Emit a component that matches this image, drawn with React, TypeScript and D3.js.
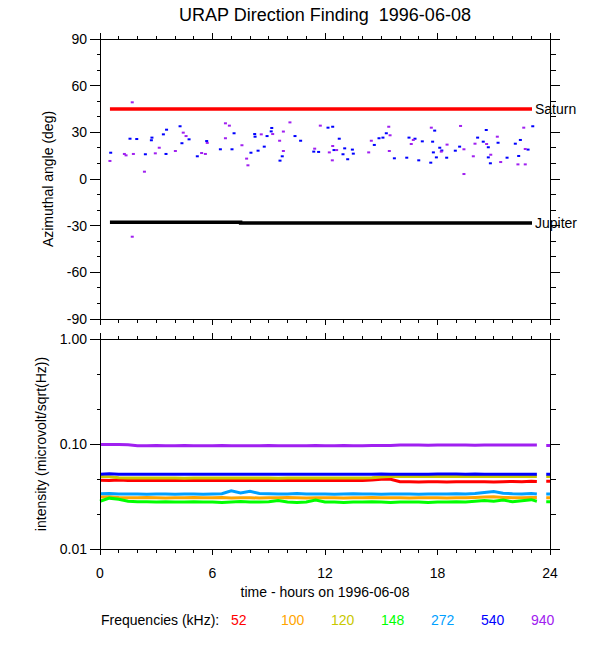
import React from 'react';
import * as d3 from 'd3';

const W = 600;
const H = 650;
const left = 100;
const right = 550;
const top1 = 39;
const bot1 = 319;
const top2 = 339;
const bot2 = 549;
const FONT = '"Liberation Sans", Arial, Helvetica, sans-serif';

const hourTicks = [0, 6, 12, 18, 24];
const angleTicks = [-90, -60, -30, 0, 30, 60, 90];
const intensityTicks = [0.01, 0.1, 1];
const intensityLabels = ['0.01', '0.10', '1.00'];

// direction finding results: [hour, azimuth deg]
const blueDF = [
  [0.57, 16.9], [1.6, 25.9], [1.96, 25.7], [2.42, 15.9], [2.74, 24.9], [2.77, 26.6],
  [3.38, 28.7], [3.55, 31.7], [3.52, 16.1], [4.27, 33.9], [4.37, 23], [4.75, 25.5],
  [5.19, 14.6], [5.69, 24.4], [6.42, 19.1], [7.15, 29.4], [7.04, 19.1], [8.05, 16.9],
  [8.25, 28.9], [8.27, 27.2], [8.43, 18.2], [8.76, 20.8], [8.91, 27.6], [9.16, 32.8],
  [9.13, 30.6], [9.6, 11.8], [9.72, 14.6], [10.4, 27.6], [10.7, 24.6], [11.4, 17.6],
  [11.66, 17.4], [12.16, 33], [12.41, 33.6], [12.48, 18.6], [12.76, 25.9], [12.96, 15.9],
  [13.05, 19.7], [13.21, 12.7], [13.46, 18.9], [13.51, 16.3], [14.63, 21.9], [14.88, 26.2],
  [15.09, 26.6], [15.27, 29.4], [15.7, 13.3], [16.36, 13.7], [16.48, 26.6], [16.8, 25.9],
  [17.0, 12], [17.19, 24.2], [17.64, 10.5], [17.85, 31.1], [17.74, 24], [17.78, 17.1],
  [17.94, 13.9], [18.12, 20.1], [18.23, 18.3], [18.49, 13.7], [18.95, 18.2], [19.18, 20.8],
  [20.14, 26.6], [20.44, 24], [20.6, 31.5], [20.71, 20.4], [20.71, 13.9], [20.82, 10.1],
  [21.23, 23.3], [21.71, 13.7], [22.15, 22.7], [22.33, 14.8], [22.42, 25.1], [22.83, 18.9],
  [23.08, 33.9],
];

const purpleDF = [
  [0.53, 11.6], [1.3, 16.1], [1.39, 15.2], [1.72, 49.3], [1.78, 16.1], [1.72, -37.1],
  [2.37, 4.7], [2.95, 16.5], [3.16, 20.1], [4.02, 18], [4.44, 29.8], [4.59, 27.6],
  [5.42, 16.7], [5.62, 16.1], [5.72, 23.2], [6.69, 35.8], [6.9, 34.3], [6.69, 26.2],
  [7.57, 21.7], [7.82, 13.1], [7.89, 8.8], [8.6, 28.7], [9.21, 28.9], [9.58, 24.6],
  [9.78, 18], [9.78, 30.5], [10.13, 36.4], [11.45, 19.5], [11.75, 34.3], [12.41, 21.2],
  [12.23, 17.1], [12.62, 18.6], [12.39, 12], [14.33, 17.1], [14.47, 24.6], [15.4, 33.6],
  [15.47, 28.1], [15.43, 18], [16.71, 25.1], [16.6, 22.5], [17.67, 33], [18.2, 17.6],
  [18.51, 22.1], [19.23, 34.1], [19.41, 19.1], [19.41, 3.2], [19.91, 14.6], [20.0, 22.7],
  [20.62, 22.5], [20.84, 15.6], [21.19, 27.2], [21.37, 10.9], [22.29, 9.4], [22.6, 33],
  [22.68, 9.4], [22.68, 19.3],
];

const saturn = [[0.53, 45], [23.04, 45]];
const jupiter = [[0.53, -27.8], [7.5, -27.8], [7.5, -28.3], [23.04, -28.3]];

// intensity time series (NaN = data gap)
const times = [
  0, 0.5, 1, 1.5, 2, 2.5, 3, 3.5, 4, 4.5, 5, 5.5,
  6, 6.5, 7, 7.5, 8, 8.5, 9, 9.5, 10, 10.5, 11, 11.5,
  12, 12.5, 13, 13.5, 14, 14.5, 15, 15.5, 16, 16.5, 17, 17.5,
  18, 18.5, 19, 19.5, 20, 20.5, 21, 21.5, 22, 22.5, 23,
  23.3, 23.55, 23.8, 24,
];
const f52 = [
  0.0452, 0.045, 0.0455, 0.045, 0.045, 0.0448, 0.045, 0.0452, 0.045, 0.045, 0.0448, 0.045,
  0.045, 0.045, 0.0452, 0.045, 0.0448, 0.045, 0.045, 0.0452, 0.045, 0.045, 0.045, 0.0448,
  0.045, 0.045, 0.0452, 0.045, 0.045, 0.0455, 0.0462, 0.0462, 0.0438, 0.0437, 0.0435, 0.0437,
  0.0437, 0.0435, 0.0437, 0.0437, 0.0438, 0.0437, 0.0435, 0.0437, 0.044, 0.0437, 0.0442,
  0.044, NaN, 0.0442, 0.0442,
];
const f100 = [
  0.0312, 0.0315, 0.031, 0.0308, 0.0308, 0.031, 0.0308, 0.0306, 0.0308, 0.0308, 0.031, 0.0308,
  0.0308, 0.031, 0.0306, 0.0308, 0.0308, 0.0306, 0.0308, 0.0308, 0.031, 0.0308, 0.0306, 0.0308,
  0.0308, 0.0308, 0.0306, 0.0308, 0.0308, 0.031, 0.0308, 0.0308, 0.0308, 0.0306, 0.0308, 0.0308,
  0.0308, 0.0306, 0.0308, 0.0308, 0.031, 0.0312, 0.0315, 0.031, 0.0308, 0.0308, 0.031,
  0.031, NaN, 0.0308, 0.0308,
];
const f120 = [
  0.049, 0.0488, 0.0478, 0.0475, 0.0474, 0.0474, 0.0475, 0.0474, 0.0474, 0.0473, 0.0474, 0.0475,
  0.0474, 0.0474, 0.0474, 0.0475, 0.0474, 0.0474, 0.0474, 0.0473, 0.0474, 0.0474, 0.0475, 0.0474,
  0.0474, 0.0474, 0.0474, 0.0475, 0.0474, 0.0478, 0.0486, 0.049, 0.049, 0.0491, 0.049, 0.0491,
  0.049, 0.0491, 0.049, 0.049, 0.0491, 0.049, 0.049, 0.0491, 0.049, 0.0492, 0.0491,
  0.049, NaN, 0.049, 0.049,
];
const f148 = [
  0.0285, 0.0305, 0.0298, 0.0285, 0.0282, 0.0282, 0.028, 0.0282, 0.028, 0.028, 0.0282, 0.028,
  0.028, 0.0278, 0.028, 0.0283, 0.028, 0.028, 0.0282, 0.029, 0.028, 0.0278, 0.028, 0.0292,
  0.028, 0.028, 0.0278, 0.028, 0.028, 0.0282, 0.028, 0.0278, 0.028, 0.028, 0.028, 0.0278,
  0.028, 0.028, 0.0282, 0.028, 0.0285, 0.029, 0.0285, 0.0292, 0.0282, 0.0288, 0.0295,
  0.0285, NaN, 0.0282, 0.0282,
];
const f272 = [
  0.0336, 0.0338, 0.0334, 0.0334, 0.0334, 0.0333, 0.0334, 0.0334, 0.0333, 0.0334, 0.0334, 0.0333,
  0.0334, 0.0336, 0.0358, 0.0342, 0.0354, 0.0338, 0.0336, 0.0334, 0.0334, 0.0338, 0.0334, 0.0334,
  0.0334, 0.0333, 0.0334, 0.0336, 0.0334, 0.0334, 0.0333, 0.0334, 0.0334, 0.0334, 0.0333, 0.0334,
  0.0334, 0.0334, 0.0336, 0.0334, 0.0338, 0.0345, 0.0352, 0.034, 0.0336, 0.0334, 0.0338,
  0.0334, NaN, 0.0334, 0.0334,
];
const f540 = [
  0.0516, 0.052, 0.0516, 0.0516, 0.0514, 0.0514, 0.0516, 0.0514, 0.0514, 0.0514, 0.0516, 0.0514,
  0.0514, 0.0514, 0.0516, 0.0514, 0.0514, 0.0514, 0.0516, 0.0514, 0.0514, 0.0514, 0.0514, 0.0516,
  0.0514, 0.0516, 0.0514, 0.0514, 0.0514, 0.0514, 0.0518, 0.0516, 0.0516, 0.0516, 0.0514, 0.0516,
  0.0518, 0.0518, 0.0518, 0.0516, 0.0518, 0.0514, 0.0514, 0.0516, 0.0514, 0.0514, 0.0514,
  0.0514, NaN, 0.0514, 0.0514,
];
const f940 = [
  0.099, 0.099, 0.099, 0.0985, 0.0965, 0.0965, 0.097, 0.0965, 0.0965, 0.097, 0.0965, 0.0965,
  0.0965, 0.097, 0.0965, 0.0965, 0.0965, 0.0965, 0.097, 0.0965, 0.0965, 0.0965, 0.0965, 0.097,
  0.0965, 0.0965, 0.097, 0.0965, 0.0965, 0.097, 0.097, 0.097, 0.098, 0.098, 0.098, 0.0975,
  0.098, 0.098, 0.098, 0.098, 0.0975, 0.098, 0.098, 0.098, 0.098, 0.098, 0.098,
  0.098, NaN, 0.097, 0.097,
];

const freqLabels = ['52', '100', '120', '148', '272', '540', '940'];
const freqColors = ['#ff0000', '#ffa500', '#c8c800', '#00ff00', '#00a0ff', '#0000ff', '#a020f0'];
const freqSeries = [f52, f100, f120, f148, f272, f540, f940];

const x = d3.scaleLinear().domain([0, 24]).range([left, right]);
const yAng = d3.scaleLinear().domain([-90, 90]).range([bot1, top1]);
const yInt = d3.scaleLog().domain([0.01, 1]).range([bot2, top2]);

const minorHours = d3.range(0, 25, 1);
const minorAngles = d3.range(-90, 91, 10);
const minorInt = d3.range(-6, 1).map((k) => Math.pow(10, k / 3));

const tl = { xMaj: 6, xMin: 3.5, yMajL: 10, yMinL: 3.5, yMajR: 10, yMinR: 6 };

function Panel({ y, yTop, yBot, yMajor, yMinor, yLabels }) {
  return (
    <g stroke="#000" strokeWidth={1} shapeRendering="crispEdges">
      <rect x={left} y={yTop} width={right - left} height={yBot - yTop} fill="none" />
      {minorHours.map((h) => {
        const maj = hourTicks.includes(h);
        const l = maj ? tl.xMaj : tl.xMin;
        return (
          <g key={'h' + h}>
            <line x1={x(h)} x2={x(h)} y1={yTop} y2={yTop - l} />
            <line x1={x(h)} x2={x(h)} y1={yBot} y2={yBot + l} />
          </g>
        );
      })}
      {yMinor.map((v, i) => (
        <g key={'m' + i}>
          <line x1={left} x2={left - tl.yMinL} y1={y(v)} y2={y(v)} />
          <line x1={right} x2={right + tl.yMinR} y1={y(v)} y2={y(v)} />
        </g>
      ))}
      {yMajor.map((v, i) => (
        <g key={'M' + i}>
          <line x1={left} x2={left - tl.yMajL} y1={y(v)} y2={y(v)} />
          <line x1={right} x2={right + tl.yMajR} y1={y(v)} y2={y(v)} />
          <text x={87} y={y(v)} dy="0.36em" textAnchor="end" stroke="none" fill="#000"
            fontSize={14} fontFamily={FONT}>{yLabels[i]}</text>
        </g>
      ))}
    </g>
  );
}

export default function App() {
  const line = d3.line<number[]>().x((d) => x(d[0])).y((d) => yAng(d[1]));
  const intLine = (vals: number[]) =>
    d3.line<number>()
      .defined((v) => !isNaN(v))
      .x((_, i) => x(times[i]))
      .y((v) => yInt(v))(vals);

  return (
    <svg width={W} height={H} style={{ position: 'absolute', left: 0, top: 0, background: '#fff' }}
      fontFamily={FONT}>
      <rect width={W} height={H} fill="#fff" />
      <text x={(left + right) / 2} y={21} textAnchor="middle" fontSize={18} style={{ whiteSpace: 'pre' }}>
        {'URAP Direction Finding  1996-06-08'}
      </text>

      {/* top panel: azimuth */}
      <path d={line(saturn)} stroke="#ff0000" strokeWidth={3.5} fill="none" />
      <path d={line(jupiter)} stroke="#000" strokeWidth={3.5} fill="none" />
      <text x={535} y={yAng(45)} dy="0.36em" fontSize={14}>Saturn</text>
      <text x={535} y={yAng(-28)} dy="0.36em" fontSize={14}>Jupiter</text>
      {blueDF.map((d, i) => (
        <rect key={'b' + i} x={x(d[0]) - 1.5} y={yAng(d[1]) - 1} width={3} height={2} fill="#0000ff" />
      ))}
      {purpleDF.map((d, i) => (
        <rect key={'p' + i} x={x(d[0]) - 1.5} y={yAng(d[1]) - 1} width={3} height={2} fill="#a020f0" />
      ))}
      <Panel y={yAng} yTop={top1} yBot={bot1} yMajor={angleTicks} yMinor={minorAngles}
        yLabels={angleTicks.map(String)} />
      <text transform={`translate(53,${(top1 + bot1) / 2}) rotate(-90)`} textAnchor="middle" fontSize={14}>
        Azimuthal angle (deg)
      </text>

      {/* bottom panel: intensity */}
      {freqSeries.map((vals, i) => (
        <path key={'f' + i} d={intLine(vals)} stroke={freqColors[i]} strokeWidth={3} fill="none" />
      ))}
      <Panel y={yInt} yTop={top2} yBot={bot2} yMajor={intensityTicks} yMinor={minorInt}
        yLabels={intensityLabels} />
      <text transform={`translate(46,${(top2 + bot2) / 2}) rotate(-90)`} textAnchor="middle" fontSize={14}>
        intensity (microvolt/sqrt(Hz))
      </text>

      {hourTicks.map((h) => (
        <text key={'xl' + h} x={x(h)} y={578} textAnchor="middle" fontSize={14}>{h}</text>
      ))}
      <text x={(left + right) / 2} y={597} textAnchor="middle" fontSize={14}>
        time - hours on 1996-06-08
      </text>

      <text x={101} y={625} fontSize={14}>Frequencies (kHz):</text>
      {freqLabels.map((f, i) => (
        <text key={'lg' + f} x={231 + i * 50} y={625} fontSize={14} fill={freqColors[i]}>{f}</text>
      ))}
    </svg>
  );
}
